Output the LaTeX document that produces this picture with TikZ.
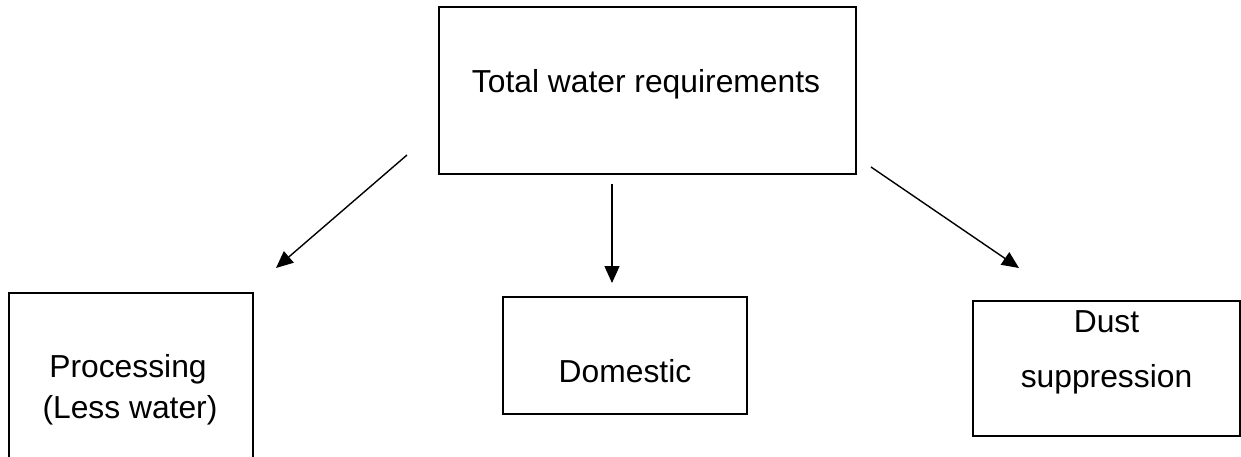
\documentclass[tikz,border=0pt]{standalone}
\usepackage{fontspec}
\setmainfont{Liberation Sans}
\usetikzlibrary{arrows.meta}
\begin{document}
\begin{tikzpicture}[x=1pt,y=-1pt,
  boxnode/.style={draw=black,line width=2pt,inner sep=0pt},
  lbl/.style={anchor=base,inner sep=0pt,font=\fontsize{31.8}{38}\selectfont},
  conn/.style={line width=1.4pt,-{Triangle[length=17pt,width=15pt]}}]
\useasboundingbox[fill=white] (0,0) rectangle (1241,457);
% boxes
\node[boxnode,minimum width=417pt,minimum height=167pt] (top) at (647.5,90.5) {};
\node[boxnode,minimum width=244pt,minimum height=190pt] (proc) at (131,388) {};
\node[boxnode,minimum width=244pt,minimum height=117pt] (dom) at (625,355.5) {};
\node[boxnode,minimum width=267pt,minimum height=135pt] (dust) at (1106.5,368.5) {};
% texts
\node[lbl] (ttop) at (646,93) {Total water requirements};
\node[lbl] (tproc1) at (128,377) {Processing};
\node[lbl] (tproc2) at (130,418) {(Less water)};
\node[lbl] (tdom) at (625,382) {Domestic};
\node[lbl] (tdust1) at (1106.5,332) {Dust};
\node[lbl] (tdust2) at (1106.5,387) {suppression};
% connectors
\coordinate (l1) at (407,155);
\coordinate (l2) at (276,268);
\coordinate (m1) at (612,184);
\coordinate (m2) at (612,283);
\coordinate (r1) at (871,167);
\coordinate (r2) at (1019,268);
\draw[conn] (l1) -- (l2);
\draw[conn] (m1) -- (m2);
\draw[conn] (r1) -- (r2);
\end{tikzpicture}
\end{document}
